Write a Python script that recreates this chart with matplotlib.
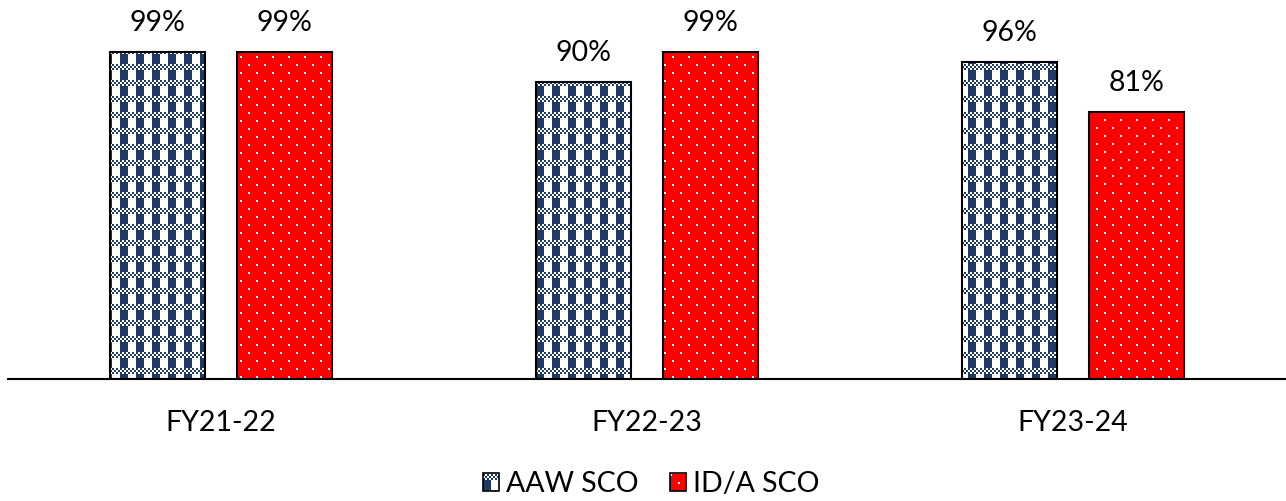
import numpy as np
import matplotlib
matplotlib.use("Agg")
import matplotlib.pyplot as plt
from matplotlib.patches import Patch

plt.rcParams["font.family"] = ["Lato", "DejaVu Sans"]

years = ["FY21-22", "FY22-23", "FY23-24"]
aaw_sco = [99, 90, 96]
ida_sco = [99, 99, 81]
series_names = ["AAW SCO", "ID/A SCO"]

NAVY = np.array([31, 56, 100]) / 255
RED = np.array([255, 0, 0]) / 255
WHITE = np.ones(3)

W, H = 1286, 501
DPI = 100
AX_LEFT, AX_BOTTOM, AX_W, AX_H = 8, 122, 1278, 379
FS = 20.5


def plaid(h, w):
    # small checker band every 16 rows, chunky navy columns in between
    y, x = np.mgrid[0:h, 0:w]
    band = (y % 16) < 6
    checker = ((x // 2 + y // 2) % 2) == 0
    block = (x % 16) < 8
    navy = np.where(band, checker, block)
    img = np.where(navy[..., None], NAVY, WHITE)
    return img


def dotted(h, w):
    y, x = np.mgrid[0:h, 0:w]
    shift = 8 * ((y // 8) % 2)
    dot = ((y % 8) < 2) & (((x + shift) % 16) < 2)
    return np.where(dot[..., None], WHITE, RED)


fig = plt.figure(figsize=(W / DPI, H / DPI), dpi=DPI)
ax = fig.add_axes([AX_LEFT / W, AX_BOTTOM / H, AX_W / W, AX_H / H])

xs = np.arange(len(years))
bw = 0.223
off = 0.149
ylim = (0, AX_H / 3.30)
xlim = (-0.5, len(years) - 0.5)

bars_a = ax.bar(xs - off, aaw_sco, bw, facecolor="none", edgecolor="black", lw=1.5, zorder=3)
bars_b = ax.bar(xs + off, ida_sco, bw, facecolor="none", edgecolor="black", lw=1.5, zorder=3)

tex_a = plaid(AX_H, AX_W)
tex_b = dotted(AX_H, AX_W)
for bars, tex in [(bars_a, tex_a), (bars_b, tex_b)]:
    for p in bars:
        im = ax.imshow(tex, extent=(*xlim, *ylim), origin="upper", aspect="auto",
                       interpolation="nearest", zorder=2)
        im.set_clip_path(p)

for bars, vals in [(bars_a, aaw_sco), (bars_b, ida_sco)]:
    for p, v in zip(bars, vals):
        ax.annotate(f"{v}%", (p.get_x() + p.get_width() / 2, v), xytext=(0, 15),
                    textcoords="offset points", ha="center", va="baseline", fontsize=FS)

ax.set_xlim(*xlim)
ax.set_ylim(*ylim)
ax.set_xticks(xs, years)
ax.tick_params(axis="x", length=0, pad=22, labelsize=FS)
ax.set_yticks([])
for side in ["top", "right", "left"]:
    ax.spines[side].set_visible(False)
ax.spines["bottom"].set_linewidth(1.5)
ax.patch.set_alpha(0)

handles = [Patch(facecolor="none", edgecolor="black", lw=1.2, label=n) for n in series_names]
leg = fig.legend(handles=handles, loc="center", bbox_to_anchor=(651 / W, 17 / H), ncol=2,
                 frameon=False, fontsize=FS, handlelength=0.56, handleheight=0.56,
                 handletextpad=0.25, columnspacing=1.1, borderpad=0)

# fill the legend keys with the same textures
fig.canvas.draw()
for patch, maker in zip(leg.get_patches(), [plaid, dotted]):
    bb = patch.get_window_extent()
    w, h = int(round(bb.width)), int(round(bb.height))
    fig.figimage(maker(h, w), xo=int(round(bb.x0)), yo=int(round(bb.y0)), origin="upper", zorder=1)

fig.savefig("out.png", dpi=DPI)
